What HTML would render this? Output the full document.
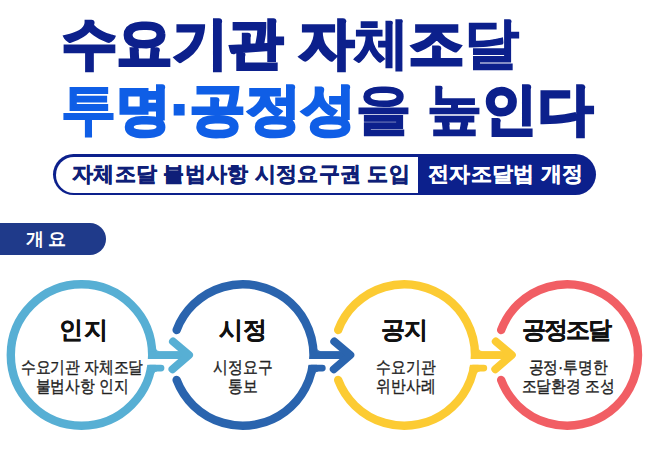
<!DOCTYPE html>
<html><head><meta charset="utf-8">
<style>
html,body{margin:0;padding:0;background:#fff;}
body{width:650px;height:452px;position:relative;overflow:hidden;font-family:"Liberation Sans",sans-serif;}
.t{position:absolute;white-space:nowrap;line-height:1;}
#l1{left:62px;top:16px;letter-spacing:0.25px;font-size:55px;font-weight:700;color:#0c208c;-webkit-text-stroke:3.2px #0c208c;}
#l2{left:61px;top:82px;letter-spacing:0.3px;font-size:55px;font-weight:700;color:#0c208c;-webkit-text-stroke:3.2px #0c208c;}
.th{-webkit-text-stroke:1.4px #0c208c;}
.thb{-webkit-text-stroke:1.6px #0f5ee6;}
#l2 .b{color:#0f5ee6;-webkit-text-stroke:3.2px #0f5ee6;}
#pill{position:absolute;left:53px;top:154px;width:543px;height:41px;background:#0c208c;border-radius:20.5px;}
#pillL{position:absolute;left:2.5px;top:2.5px;width:362px;height:36px;background:#fff;border-radius:18px 0 0 18px;}
#p1{left:72px;top:163px;font-size:21px;letter-spacing:0.3px;font-weight:700;color:#0f1f78;-webkit-text-stroke:0.5px #0f1f78;}
#p2{left:428px;top:163px;font-size:21px;letter-spacing:0.3px;font-weight:700;color:#fff;-webkit-text-stroke:0.3px #fff;}
#tab{position:absolute;left:0;top:223px;width:106px;height:32px;background:#1f3a8a;border-radius:0 16px 16px 0;}
#tabt{left:25.5px;top:230.5px;font-size:17.5px;font-weight:700;color:#fff;}
svg{position:absolute;left:0;top:0;}
.h{position:absolute;font-size:24px;font-weight:700;color:#111;-webkit-text-stroke:0.2px #111;text-align:center;width:160px;line-height:1;}
.s{position:absolute;font-size:16.5px;font-weight:400;color:#222;-webkit-text-stroke:0.35px #222;text-align:center;width:160px;line-height:18.5px;transform:scaleX(0.87);transform-origin:80px 0;}
</style></head><body>
<div class="t" id="l1">수요기관 자<span class="th">체</span>조<span class="th">달</span></div>
<div class="t" id="l2"><span class="b"><span class="thb">투</span>명·공정성</span><span class="th">을</span> <span class="th">높</span>인다</div>
<div id="pill"><div id="pillL"></div></div>
<div class="t" id="p1">자체조달 불법사항 시정요구권 도입</div>
<div class="t" id="p2">전자조달법 개정</div>
<div id="tab"></div>
<div class="t" id="tabt">개 요</div>

<svg width="650" height="452" viewBox="0 0 650 452">
    <circle cx="81.5" cy="355.0" r="70.7" stroke="#57afd4" stroke-width="8.4" fill="none"/>
    <rect x="144.20" y="359" width="20" height="5.8" fill="#fff"/>
    <rect x="148.70" y="351.1" width="40.30" height="7.9" fill="#57afd4"/>
    <line x1="150.20" y1="368.1" x2="161.00" y2="368.1" stroke="#57afd4" stroke-width="6.8" stroke-linecap="round"/>
    <path d="M156.11,348.37 L155.80,351.60 L159.09,351.60 L159.09,351.10 A3.0,3.0 0 0 1 156.11,348.37 Z" fill="#57afd4"/>
    <path d="M154.02,373.75 L154.06,371.00 L156.92,371.00 L156.92,371.50 A3.0,3.0 0 0 0 154.02,373.75 Z" fill="#57afd4"/>
    <polyline points="173.00,341.5 189.00,355 172.50,369.2" stroke="#57afd4" stroke-width="8" fill="none" stroke-linecap="round" stroke-linejoin="round"/>
    <path d="M176.67,330.00 A70.7,70.7 0 1 1 176.67,380.00" stroke="#2a64ae" stroke-width="8.4" fill="none" stroke-linecap="round"/>
    <rect x="305.50" y="359" width="20" height="5.8" fill="#fff"/>
    <rect x="310.00" y="351.1" width="40.30" height="7.9" fill="#2a64ae"/>
    <line x1="311.50" y1="368.1" x2="322.30" y2="368.1" stroke="#2a64ae" stroke-width="6.8" stroke-linecap="round"/>
    <path d="M317.41,348.37 L317.10,351.60 L320.39,351.60 L320.39,351.10 A3.0,3.0 0 0 1 317.41,348.37 Z" fill="#2a64ae"/>
    <path d="M315.32,373.75 L315.36,371.00 L318.22,371.00 L318.22,371.50 A3.0,3.0 0 0 0 315.32,373.75 Z" fill="#2a64ae"/>
    <polyline points="334.30,341.5 350.30,355 333.80,369.2" stroke="#2a64ae" stroke-width="8" fill="none" stroke-linecap="round" stroke-linejoin="round"/>
    <path d="M338.17,330.00 A70.7,70.7 0 1 1 338.17,380.00" stroke="#fccb33" stroke-width="8.4" fill="none" stroke-linecap="round"/>
    <rect x="467.00" y="359" width="20" height="5.8" fill="#fff"/>
    <rect x="471.50" y="351.1" width="40.30" height="7.9" fill="#fccb33"/>
    <line x1="473.00" y1="368.1" x2="483.80" y2="368.1" stroke="#fccb33" stroke-width="6.8" stroke-linecap="round"/>
    <path d="M478.91,348.37 L478.60,351.60 L481.89,351.60 L481.89,351.10 A3.0,3.0 0 0 1 478.91,348.37 Z" fill="#fccb33"/>
    <path d="M476.82,373.75 L476.86,371.00 L479.72,371.00 L479.72,371.50 A3.0,3.0 0 0 0 476.82,373.75 Z" fill="#fccb33"/>
    <polyline points="495.80,341.5 511.80,355 495.30,369.2" stroke="#fccb33" stroke-width="8" fill="none" stroke-linecap="round" stroke-linejoin="round"/>
    <path d="M501.17,330.00 A70.7,70.7 0 1 1 501.17,380.00" stroke="#f15e64" stroke-width="8.4" fill="none" stroke-linecap="round"/>
</svg>

<div class="h" style="left:4px;top:318px;letter-spacing:1px;text-indent:0px;">인지</div>
<div class="s" style="left:1.5px;top:358px;">수요기관 자체조달<br>불법사항 인지</div>
<div class="h" style="left:162.8px;top:318px;letter-spacing:-0.5px;text-indent:-0.5px;">시정</div>
<div class="s" style="left:162.8px;top:358px;">시정요구<br>통보</div>
<div class="h" style="left:324.3px;top:318px;letter-spacing:-1.5px;text-indent:-1.5px;">공지</div>
<div class="s" style="left:325.8px;top:358px;">수요기관<br>위반사례</div>
<div class="h" style="left:487.3px;top:318px;letter-spacing:-2px;text-indent:-2px;">공정조달</div>
<div class="s" style="left:488.3px;top:358px;">공정·투명한<br>조달환경 조성</div>
</body></html>
